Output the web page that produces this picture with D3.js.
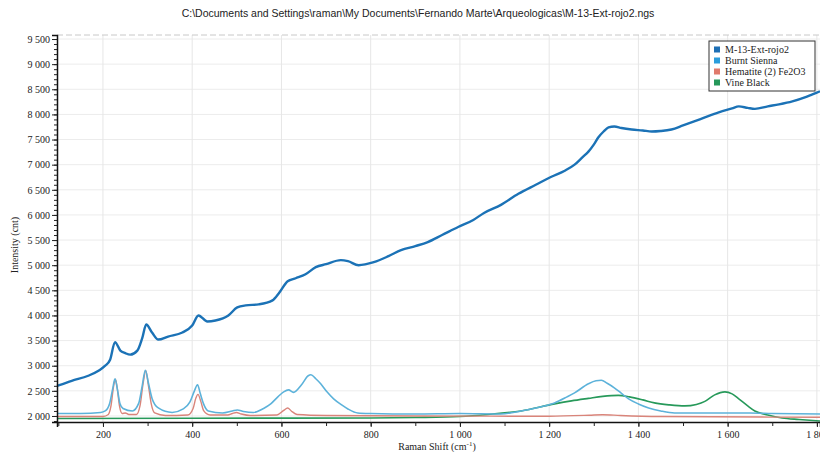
<!DOCTYPE html>
<html>
<head>
<meta charset="utf-8">
<script src="https://cdn.jsdelivr.net/npm/d3@7"></script>
<style>
  body { margin: 0; background: #fff; }
  svg { display: block; }
</style>
</head>
<body>
<script>
// Data (Raman shift in cm-1, intensity in counts)
var titleText = "C:\\Documents and Settings\\raman\\My Documents\\Fernando Marte\\Arqueologicas\\M-13-Ext-rojo2.ngs";
var seriesNames = ["M-13-Ext-rojo2", "Burnt Sienna", "Hematite (2) Fe2O3", "Vine Black"];
var seriesColors = ["#1b72b6", "#5cb2da", "#d9847a", "#27995a"];

var xTicks = [200, 400, 600, 800, 1000, 1200, 1400, 1600, 1800];
var yTicks = [2000, 2500, 3000, 3500, 4000, 4500, 5000, 5500, 6000, 6500, 7000, 7500, 8000, 8500, 9000, 9500];

var mainX = [97, 104, 130, 167, 190, 205, 216, 227, 239, 250, 261, 277, 288, 297, 310, 324, 346, 378, 400, 414, 434, 452, 481, 501, 520, 549, 580, 595, 614, 632, 654, 677, 700, 733, 749, 773, 807, 840, 868, 900, 928, 960, 996, 1030, 1054, 1092, 1131, 1170, 1205, 1235, 1257, 1275, 1288, 1300, 1310, 1322, 1333, 1346, 1362, 1385, 1410, 1430, 1450, 1474, 1500, 1525, 1549, 1580, 1610, 1625, 1645, 1661, 1690, 1715, 1745, 1773, 1790, 1807];
var mainY = [2600, 2620, 2700, 2800, 2900, 3000, 3120, 3470, 3300, 3250, 3220, 3300, 3550, 3820, 3660, 3520, 3580, 3660, 3800, 4000, 3880, 3900, 4000, 4160, 4200, 4220, 4300, 4450, 4680, 4740, 4820, 4960, 5020, 5100, 5080, 5000, 5060, 5180, 5300, 5380, 5460, 5600, 5760, 5900, 6040, 6200, 6420, 6600, 6760, 6880, 7000, 7150, 7260, 7400, 7540, 7660, 7740, 7760, 7730, 7700, 7680, 7660, 7670, 7700, 7780, 7860, 7940, 8040, 8120, 8160, 8130, 8110, 8160, 8200, 8260, 8340, 8400, 8460];

var siennaX = [97, 150, 195, 205, 215, 222, 227, 232, 238, 245, 266, 280, 288, 295, 302, 310, 324, 355, 380, 395, 405, 412, 418, 425, 436, 468, 490, 501, 515, 537, 560, 576, 592, 605, 616, 627, 645, 660, 666, 677, 688, 702, 717, 735, 749, 771, 800, 900, 1000, 1092, 1137, 1180, 1212, 1240, 1257, 1288, 1305, 1317, 1330, 1346, 1362, 1378, 1400, 1423, 1450, 1481, 1550, 1600, 1650, 1700, 1807];
var siennaY = [2050, 2050, 2070, 2100, 2250, 2550, 2740, 2550, 2250, 2150, 2100, 2250, 2600, 2910, 2650, 2350, 2160, 2070, 2140, 2280, 2500, 2620, 2450, 2250, 2100, 2060, 2100, 2120, 2090, 2070, 2150, 2240, 2380, 2480, 2520, 2470, 2620, 2800, 2820, 2740, 2640, 2480, 2340, 2220, 2140, 2060, 2050, 2040, 2050, 2040, 2100, 2180, 2260, 2380, 2460, 2640, 2700, 2710, 2650, 2560, 2450, 2340, 2240, 2160, 2100, 2060, 2060, 2060, 2060, 2050, 2040];

var hematiteX = [97, 200, 212, 218, 224, 228, 232, 237, 243, 250, 258, 275, 283, 290, 296, 302, 308, 316, 340, 390, 402, 408, 413, 419, 426, 440, 480, 490, 499, 510, 530, 590, 605, 614, 622, 635, 700, 900, 1200, 1290, 1320, 1360, 1450, 1807];
var hematiteY = [1990, 1990, 2030, 2200, 2600, 2730, 2550, 2200, 2050, 2060, 2030, 2030, 2200, 2650, 2900, 2600, 2250, 2060, 2010, 2020, 2150, 2350, 2430, 2300, 2100, 2020, 2020, 2050, 2070, 2040, 2010, 2020, 2110, 2160, 2100, 2030, 2010, 2000, 1995, 2015, 2025, 2010, 1990, 1975];

var vineX = [97, 400, 800, 900, 1000, 1063, 1137, 1212, 1250, 1288, 1320, 1355, 1380, 1410, 1436, 1470, 1504, 1530, 1549, 1571, 1594, 1610, 1625, 1645, 1661, 1690, 1722, 1760, 1807];
var vineY = [1950, 1955, 1960, 1970, 1990, 2030, 2100, 2240, 2300, 2350, 2390, 2410, 2380, 2320, 2260, 2220, 2200, 2230, 2290, 2420, 2480, 2440, 2340, 2200, 2100, 2020, 1960, 1930, 1900];

var series = [
  {name: seriesNames[3], color: seriesColors[3], xs: vineX, ys: vineY, w: 1.6},
  {name: seriesNames[2], color: seriesColors[2], xs: hematiteX, ys: hematiteY, w: 1.4},
  {name: seriesNames[1], color: seriesColors[1], xs: siennaX, ys: siennaY, w: 1.6},
  {name: seriesNames[0], color: seriesColors[0], xs: mainX, ys: mainY, w: 2.4}
];

// Skalaer
var width = 820, height = 452;
var x = d3.scaleLinear().domain([97, 1807]).range([57, 820]);
var y = d3.scaleLinear().domain([1880, 9580]).range([422, 35]);

var loc = d3.formatLocale({decimal: ",", thousands: " ", grouping: [3], currency: ["", ""]});
var fmt = loc.format(",d");

var svg = d3.select("body").append("svg").attr("width", width).attr("height", height);
svg.append("rect").attr("width", width).attr("height", height).attr("fill", "#fff");

// Titel
svg.append("text").attr("x", 418).attr("y", 17).attr("text-anchor", "middle")
  .attr("font-family", "Liberation Sans, Arial, sans-serif").attr("font-size", 10.5)
  .attr("fill", "#222").text(titleText);

// Gitter
svg.append("g").selectAll("line").data(yTicks).enter().append("line")
  .attr("x1", 57).attr("x2", 820)
  .attr("y1", function(d) { return y(d); }).attr("y2", function(d) { return y(d); })
  .attr("stroke", "#ececec").attr("stroke-width", 1);
svg.append("g").selectAll("line").data(xTicks).enter().append("line")
  .attr("y1", 35).attr("y2", 422)
  .attr("x1", function(d) { return x(d); }).attr("x2", function(d) { return x(d); })
  .attr("stroke", "#e6e6e6").attr("stroke-width", 1);
svg.append("line").attr("x1", 57).attr("x2", 820).attr("y1", 35).attr("y2", 35)
  .attr("stroke", "#c8c8c8").attr("stroke-dasharray", "6,3");

// Linjer
var line = d3.line()
  .x(function(d) { return x(d[0]); })
  .y(function(d) { return y(d[1]); })
  .curve(d3.curveMonotoneX);

series.forEach(function(s) {
  var pts = s.xs.map(function(v, i) { return [v, s.ys[i]]; });
  svg.append("path").datum(pts)
    .attr("d", line)
    .attr("fill", "none")
    .attr("stroke", s.color)
    .attr("stroke-width", s.w)
    .attr("stroke-linejoin", "round");
});

// Akser
var serif = "Liberation Serif, Times New Roman, serif";
var yMinor = d3.range(1900, 9600, 100);
var xMinor = d3.range(100, 1807, 100);

svg.append("g").attr("transform", "translate(57,0)")
  .call(d3.axisLeft(y).tickValues(yTicks).tickFormat(fmt).tickSize(5).tickPadding(2));
svg.append("g").attr("transform", "translate(57,0)")
  .call(d3.axisLeft(y).tickValues(yMinor).tickFormat("").tickSize(3))
  .select(".domain").remove();

svg.append("g").attr("transform", "translate(0,422)")
  .call(d3.axisBottom(x).tickValues(xTicks).tickFormat(fmt).tickSize(5).tickPadding(4));
svg.append("g").attr("transform", "translate(0,422)")
  .call(d3.axisBottom(x).tickValues(xMinor).tickFormat("").tickSize(4))
  .select(".domain").remove();

svg.selectAll(".tick text").attr("font-family", serif).attr("font-size", 10).attr("fill", "#222");
svg.selectAll(".domain").attr("stroke", "#111").attr("stroke-width", 1.5);
svg.selectAll(".tick line").attr("stroke", "#222");

// Aksetitler
svg.append("text").attr("transform", "translate(18,245) rotate(-90)")
  .attr("text-anchor", "middle").attr("font-family", serif).attr("font-size", 10)
  .attr("fill", "#222").text("Intensity (cnt)");
var xl = svg.append("text").attr("x", 437).attr("y", 450).attr("text-anchor", "middle")
  .attr("font-family", serif).attr("font-size", 10).attr("fill", "#222");
xl.append("tspan").text("Raman Shift (cm");
xl.append("tspan").attr("dy", -4).attr("font-size", 7).text("-1");
xl.append("tspan").attr("dy", 4).text(")");

// Legende
var leg = svg.append("g").attr("transform", "translate(709,41)");
leg.append("rect").attr("width", 106).attr("height", 50)
  .attr("fill", "#fff").attr("stroke", "#333").attr("stroke-width", 1);
var legColors = ["#1d6fb5", "#2b9ddc", "#e07a6c", "#26985a"];
seriesNames.forEach(function(n, i) {
  leg.append("rect").attr("x", 5).attr("y", 5.5 + i * 11).attr("width", 6).attr("height", 6)
    .attr("fill", legColors[i]);
  leg.append("text").attr("x", 16).attr("y", 11.5 + i * 11)
    .attr("font-family", serif).attr("font-size", 10).attr("fill", "#222").text(n);
});
</script>
</body>
</html>
